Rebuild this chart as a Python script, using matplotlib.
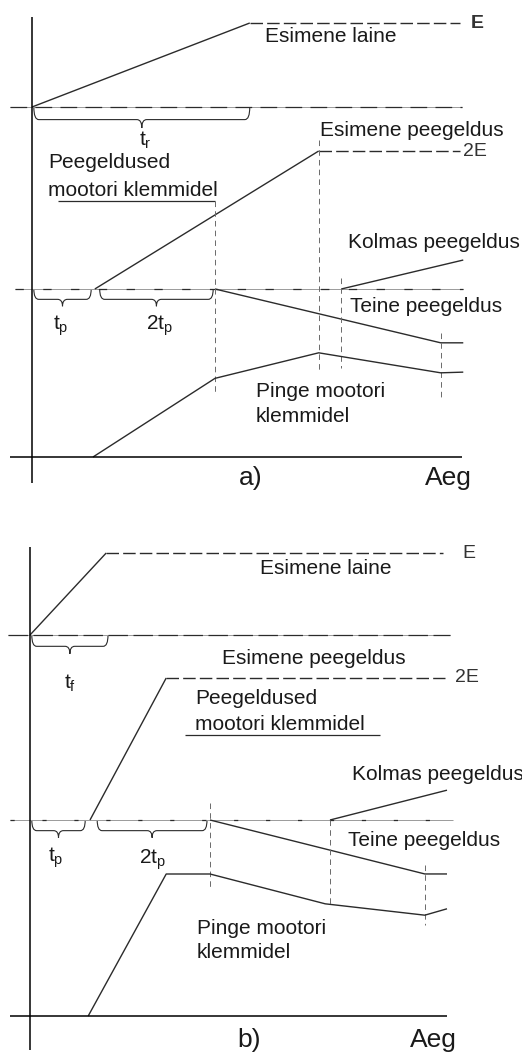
import matplotlib
matplotlib.use('Agg')
import matplotlib.pyplot as plt
from matplotlib.path import Path
from matplotlib.patches import PathPatch

plt.rcParams['font.family'] = ['Liberation Sans', 'DejaVu Sans']
plt.rcParams['lines.scale_dashes'] = False
plt.rcParams['lines.solid_capstyle'] = 'butt'

W, H = 522, 1054

# --- a) slow front: time in units of t_p, voltage in units of E ---
a_incident_t = [0, 3.57, 7.02]
a_incident_v = [0, 1, 1]
a_first_t = [1.03, 4.70, 7.02]
a_first_v = [0, 2, 2]
a_second_t = [3.0, 6.70, 7.07]
a_second_v = [0, -0.78, -0.78]
a_third_t = [5.07, 7.07]
a_third_v = [0, 0.42]
a_motor_t = [1.0, 3.0, 4.70, 6.70, 7.07]
a_motor_v = [0, 1.14, 1.51, 1.22, 1.23]

# --- b) fast front ---
b_incident_t = [0, 1.27, 6.88]
b_incident_v = [0, 1, 1]
b_first_t = [1.0, 2.27, 6.92]
b_first_v = [0, 2, 2]
b_second_t = [3.0, 6.58, 6.95]
b_second_v = [0, -0.76, -0.76]
b_third_t = [5.0, 6.95]
b_third_v = [0, 0.42]
b_motor_t = [0.97, 2.27, 3.0, 4.92, 6.58, 6.95]
b_motor_v = [0, 2.0, 2.0, 1.58, 1.42, 1.51]

INK = '#2b2b2b'
GREY = '#6a6a6a'
PALE = '#9a9a9a'

fig = plt.figure(figsize=(W / 100, H / 100), dpi=100)


def track(x0, sx, base, sy):
    # full-figure transparent axes; x0/base are pixel origins, sx/sy pixels per unit
    ax = fig.add_axes([0, 0, 1, 1])
    ax.set_xlim(-x0 / sx, (W - x0) / sx)
    ax.set_ylim((base - H) / sy, base / sy)
    ax.axis('off')
    ax.patch.set_alpha(0)
    return ax


def ramp_then_flat(ax, t, v):
    ax.plot(t[:2], v[:2], color=INK, lw=1.0)
    ax.plot(t[1:], v[1:], color=INK, lw=1.0, dashes=(9, 3))


def baseline(ax, t0, t1, dashes):
    # thin grey line with darker dashes on top
    ax.plot([t0, t1], [0, 0], color=PALE, lw=0.7)
    ax.plot([t0, t1], [0, 0], color=INK, lw=0.9, dashes=dashes)


def brace(ax, t0, t1, h, e=0.08):
    tm = (t0 + t1) / 2
    m = -0.6 * h
    verts = [(t0, 0), (t0, m), (t0 + e, m),
             (tm - e, m),
             (tm, m), (tm, -h),
             (tm, m), (tm + e, m),
             (t1 - e, m),
             (t1, m), (t1, 0)]
    codes = [Path.MOVETO, Path.CURVE3, Path.CURVE3,
             Path.LINETO,
             Path.CURVE3, Path.CURVE3,
             Path.CURVE3, Path.CURVE3,
             Path.LINETO,
             Path.CURVE3, Path.CURVE3]
    ax.add_patch(PathPatch(Path(verts, codes), fill=False, edgecolor=INK, lw=0.8))


def vmark(ax, t, v0, v1):
    ax.plot([t, t], [v0, v1], color=GREY, lw=0.7, dashes=(4, 3))


def label(x, y, s, size=15, **kw):
    fig.text(x / W, 1 - y / H, s, ha=kw.pop('ha', 'left'), va='center',
             fontsize=size, color='#1a1a1a', **kw)


# ================= a) =================
top = track(32, 61, 107, 84)
mid = track(32, 61, 289, 69)
bot = track(32, 61, 457, 69)

baseline(top, -0.36, 7.05, (12, 6))
ramp_then_flat(top, a_incident_t, a_incident_v)
brace(top, 0.03, 3.57, 0.25)
top.text(7.2, 1.0, 'E', fontsize=14, fontweight='bold', color='#333', va='center')

baseline(mid, -0.28, 7.07, (6, 14))
ramp_then_flat(mid, a_first_t, a_first_v)
mid.plot(a_second_t, a_second_v, color=INK, lw=1.0)
mid.plot(a_third_t, a_third_v, color=INK, lw=1.0)
mid.plot([0.43, 3.0], [1.28, 1.28], color=INK, lw=0.9)
vmark(mid, 3.0, 1.28, -1.54)
vmark(mid, 4.70, 2.16, -1.17)
vmark(mid, 5.07, 0.16, -1.14)
vmark(mid, 6.70, -0.64, -1.61)
brace(mid, 0.03, 0.97, 0.25)
brace(mid, 1.11, 2.97, 0.25)
mid.text(7.07, 2.0, '2E', fontsize=14, color='#333', va='center')

bot.plot(a_motor_t, a_motor_v, color=INK, lw=1.0)
bot.plot([-0.36, 7.05], [0, 0], color='black', lw=1.1)
bot.plot([0, 0], [6.38, -0.38], color='black', lw=1.1)

label(265, 37, 'Esimene laine')
label(145, 140, r'$\mathregular{t_r}$', ha='center')
label(320, 131, 'Esimene peegeldus')
label(48, 163, 'Peegeldused')
label(48, 190, 'mootori klemmidel')
label(348, 243, 'Kolmas peegeldus')
label(350, 306, 'Teine peegeldus')
label(61, 326, r'$\mathregular{t_p}$', ha='center')
label(160, 326, r'$\mathregular{2t_p}$', ha='center')
label(256, 392, 'Pinge mootori')
label(256, 417, 'klemmidel')
label(239, 478, 'a)', size=19)
label(425, 478, 'Aeg', size=19)

# ================= b) =================
top = track(30, 60, 635, 82)
mid = track(30, 60, 820, 71)
bot = track(30, 60, 1016, 71)

baseline(top, -0.37, 7.0, (14, 4))
ramp_then_flat(top, b_incident_t, b_incident_v)
brace(top, 0.03, 1.3, 0.23)
top.text(7.2, 1.0, 'E', fontsize=14, color='#333', va='center')

baseline(mid, -0.33, 7.05, (3, 20))
ramp_then_flat(mid, b_first_t, b_first_v)
mid.plot(b_second_t, b_second_v, color=INK, lw=1.0)
mid.plot(b_third_t, b_third_v, color=INK, lw=1.0)
mid.plot([2.58, 5.83], [1.20, 1.20], color=INK, lw=0.9)
vmark(mid, 3.0, 0.24, -0.96)
vmark(mid, 5.0, 0.0, -1.2)
vmark(mid, 6.58, -0.63, -1.48)
brace(mid, 0.03, 0.92, 0.25)
brace(mid, 1.12, 2.95, 0.25)
mid.text(7.08, 2.0, '2E', fontsize=14, color='#333', va='center')

bot.plot(b_motor_t, b_motor_v, color=INK, lw=1.0)
bot.plot([-0.33, 6.95], [0, 0], color='black', lw=1.1)
bot.plot([0, 0], [6.6, -0.48], color='black', lw=1.1)

label(260, 568, 'Esimene laine')
label(70, 683, r'$\mathregular{t_f}$', ha='center')
label(222, 659, 'Esimene peegeldus')
label(195, 699, 'Peegeldused')
label(195, 724, 'mootori klemmidel')
label(352, 775, 'Kolmas peegeldus')
label(348, 840, 'Teine peegeldus')
label(56, 858, r'$\mathregular{t_p}$', ha='center')
label(153, 860, r'$\mathregular{2t_p}$', ha='center')
label(197, 928, 'Pinge mootori')
label(197, 953, 'klemmidel')
label(237, 1040, 'b)', size=19)
label(410, 1040, 'Aeg', size=19)

fig.savefig('out.png', dpi=100, facecolor='white')
